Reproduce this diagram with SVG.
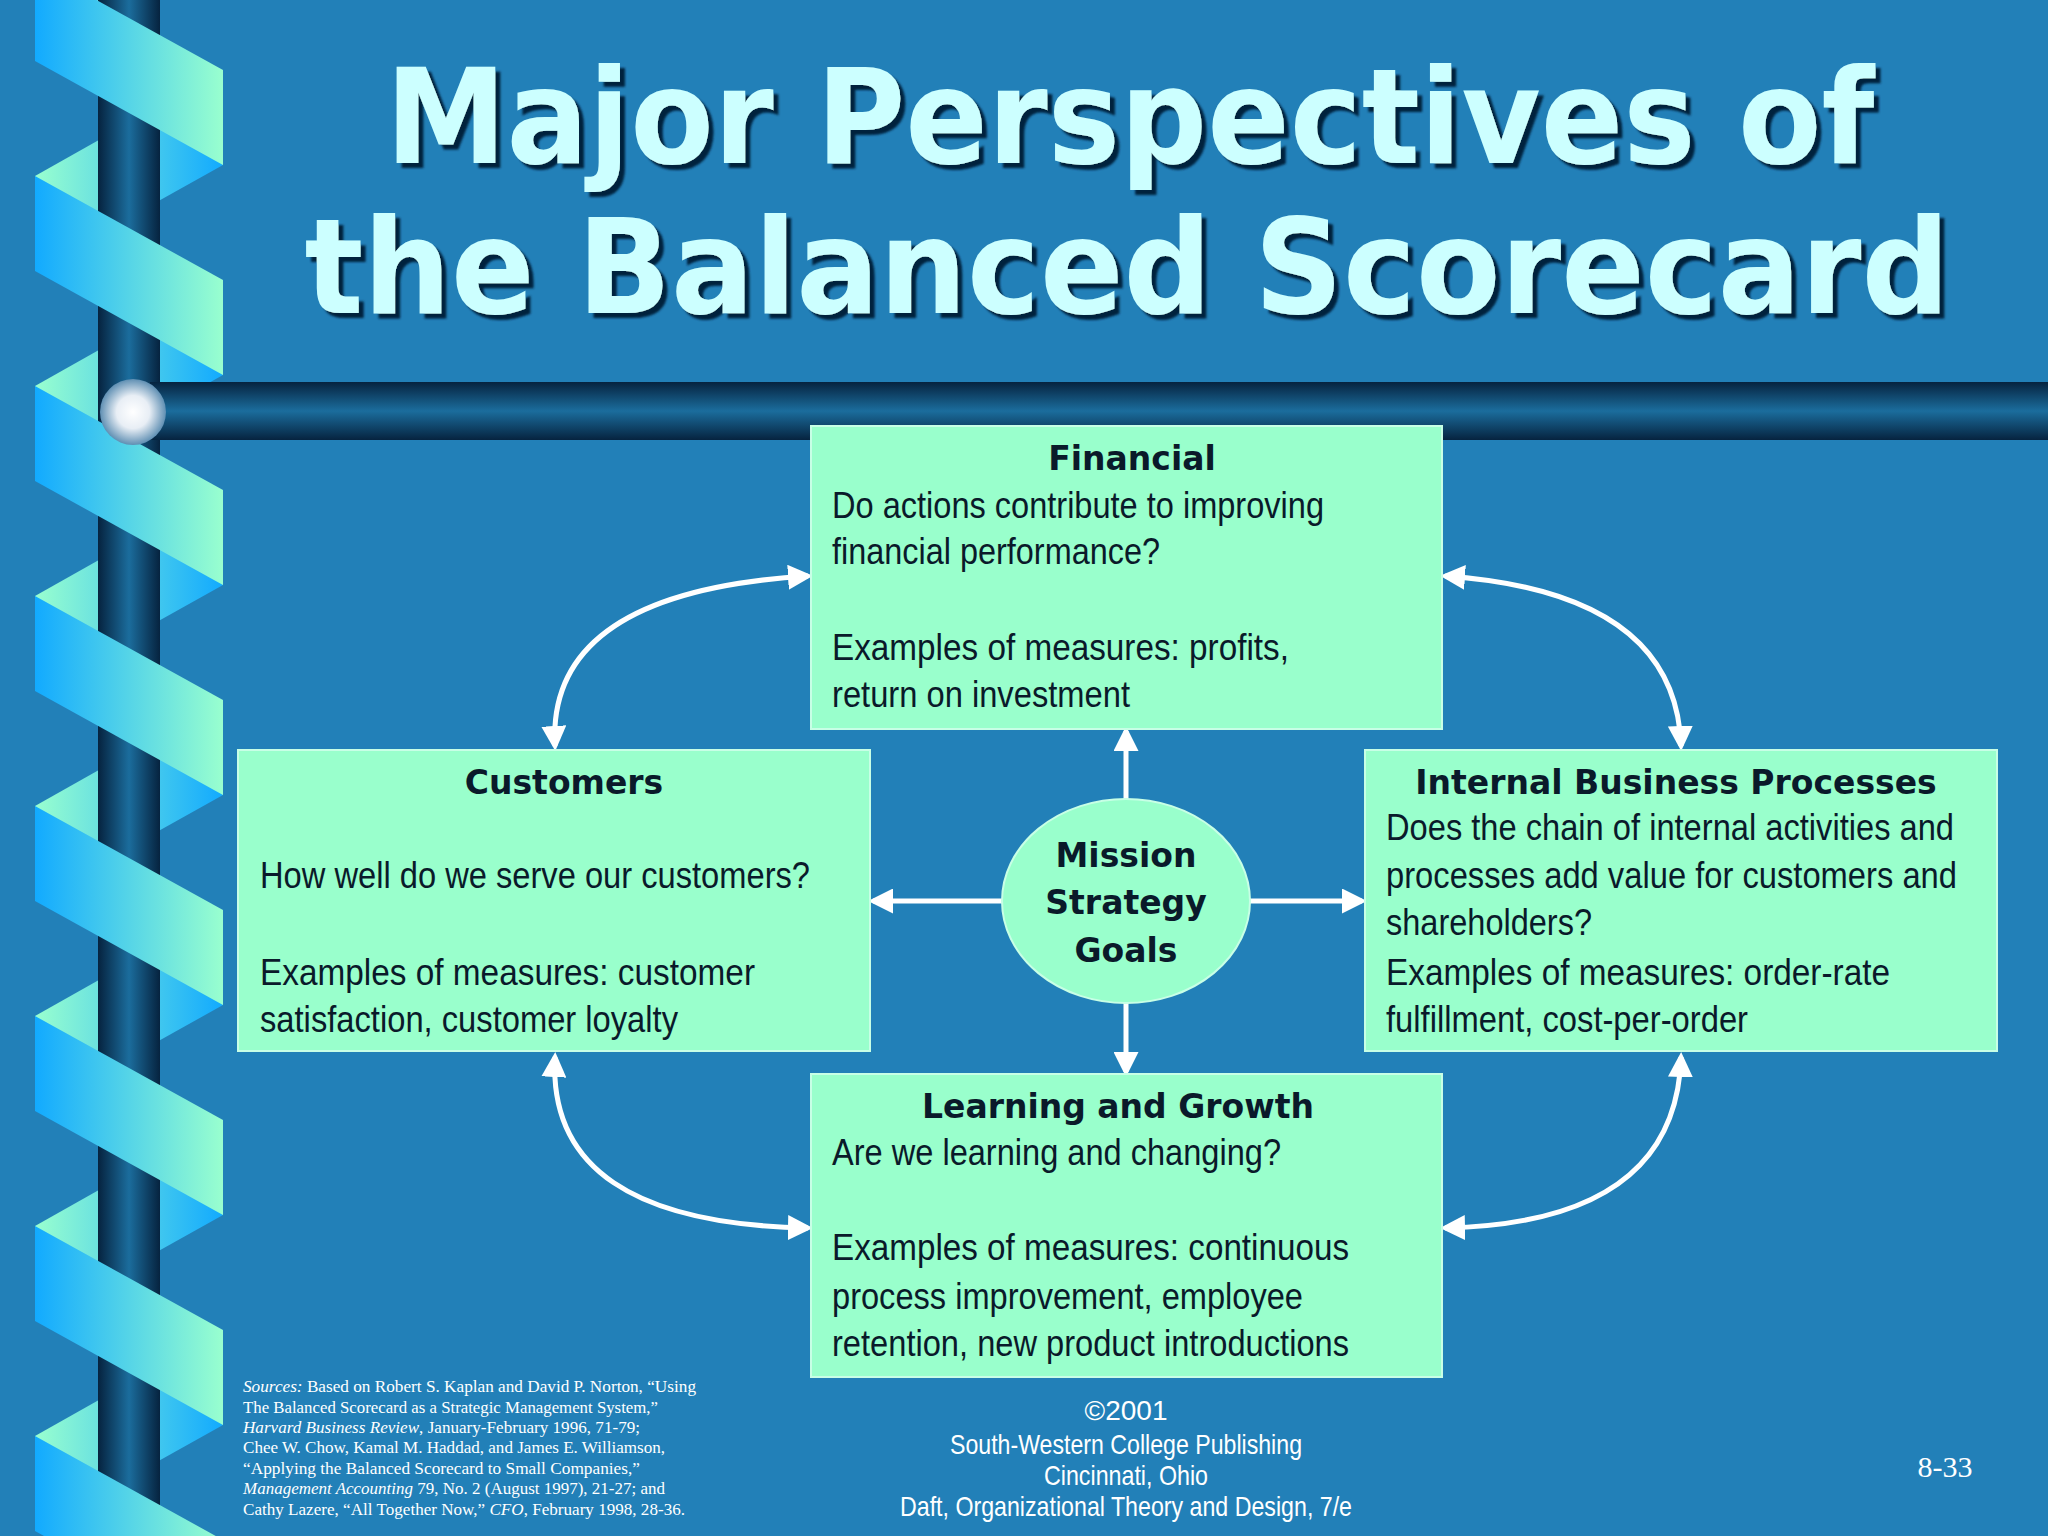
<svg xmlns="http://www.w3.org/2000/svg" width="2048" height="1536" viewBox="0 0 2048 1536">
<defs>
<linearGradient id="front" x1="0" x2="1" y1="0" y2="0"><stop offset="0" stop-color="#12aaff"/><stop offset="1" stop-color="#99ffcf"/></linearGradient>
<linearGradient id="back" x1="0" x2="1" y1="0" y2="0"><stop offset="0" stop-color="#99ffcf"/><stop offset="1" stop-color="#12aaff"/></linearGradient>
<linearGradient id="pole" x1="0" x2="1"><stop offset="0" stop-color="#06233f"/><stop offset="0.5" stop-color="#1b6d9d"/><stop offset="1" stop-color="#06233f"/></linearGradient>
<linearGradient id="bar" x1="0" x2="0" y1="0" y2="1"><stop offset="0" stop-color="#06233f"/><stop offset="0.5" stop-color="#1b6d9d"/><stop offset="1" stop-color="#06233f"/></linearGradient>
<radialGradient id="ball"><stop offset="0" stop-color="#ffffff"/><stop offset="0.5" stop-color="#e8eef5"/><stop offset="1" stop-color="#5f8fb3"/></radialGradient>
<filter id="shadow" x="-5%" y="-20%" width="110%" height="140%"><feDropShadow dx="5" dy="5" stdDeviation="1" flood-color="#05233c" flood-opacity="1"/></filter>
<marker id="ah" viewBox="0 0 10 10" refX="8" refY="5" markerWidth="5" markerHeight="5" orient="auto-start-reverse"><path d="M0,0 L10,5 L0,10 z" fill="#ffffff"/></marker>
<g id="seg">
<polygon points="223,70 223,165 35,270 35,176" fill="url(#back)"/>
</g>
</defs>
<style>
.box{fill:#99ffcc;stroke:#c8ffe6;stroke-width:2}
.tt{font-family:"DejaVu Sans",sans-serif;font-weight:bold;font-size:33px;fill:#0a1a2a;text-anchor:middle}
.bd{font-family:"Liberation Sans",Arial,sans-serif;font-size:37px;fill:#0a1a2a}
.ar{fill:none;stroke:#ffffff;stroke-width:5;marker-end:url(#ah)}
.ar2{fill:none;stroke:#ffffff;stroke-width:5;marker-end:url(#ah);marker-start:url(#ah)}
.src{font-family:"Liberation Serif",serif;font-size:17px;fill:#ffffff}
.ft{font-family:"Liberation Sans",Arial,sans-serif;font-size:28px;fill:#ffffff;text-anchor:middle}
</style>
<rect width="2048" height="1536" fill="#2280b8"/>
<g id="decor">
<use href="#seg" y="-210"/><use href="#seg"/><use href="#seg" y="210"/><use href="#seg" y="420"/><use href="#seg" y="630"/><use href="#seg" y="840"/><use href="#seg" y="1050"/><use href="#seg" y="1260"/>
<rect x="98" y="0" width="62" height="1536" fill="url(#pole)"/>
<rect x="150" y="382" width="1898" height="58" fill="url(#bar)"/>
<g fill="url(#front)">
<polygon points="35,-34 35,61 223,165 223,70"/>
<polygon points="35,176 35,271 223,375 223,280"/>
<polygon points="35,386 35,481 223,585 223,490"/>
<polygon points="35,596 35,691 223,795 223,700"/>
<polygon points="35,806 35,901 223,1005 223,910"/>
<polygon points="35,1016 35,1111 223,1215 223,1120"/>
<polygon points="35,1226 35,1321 223,1425 223,1330"/>
<polygon points="35,1436 35,1531 223,1635 223,1540"/>
</g>
<circle cx="133" cy="412" r="33" fill="url(#ball)"/>
</g>
<g id="title" font-family="'DejaVu Sans',sans-serif" font-weight="bold" font-size="132" text-anchor="middle" fill="#ccffff" filter="url(#shadow)">
<text x="1130" y="163" textLength="1489" lengthAdjust="spacingAndGlyphs">Major Perspectives of</text>
<text x="1127" y="313" textLength="1645" lengthAdjust="spacingAndGlyphs">the Balanced Scorecard</text>
</g>
<g id="connectors">
<line class="ar" x1="1126" y1="799" x2="1126" y2="731"/>
<line class="ar" x1="1126" y1="1003" x2="1126" y2="1072"/>
<line class="ar" x1="1003" y1="901" x2="873" y2="901"/>
<line class="ar" x1="1250" y1="901" x2="1362" y2="901"/>
<path class="ar2" d="M808,576 Q546,592 555,746"/>
<path class="ar2" d="M1445,576 Q1676,592 1681,746"/>
<path class="ar2" d="M555,1057 Q546,1223 808,1228"/>
<path class="ar2" d="M1681,1057 Q1676,1223 1445,1228"/>
</g>
<g id="financial">
<rect class="box" x="811" y="426" width="631" height="303"/>
<text class="tt" x="1132" y="470">Financial</text>
<text class="bd" x="832" y="518" textLength="492" lengthAdjust="spacingAndGlyphs">Do actions contribute to improving</text>
<text class="bd" x="832" y="564" textLength="328" lengthAdjust="spacingAndGlyphs">financial performance?</text>
<text class="bd" x="832" y="660" textLength="457" lengthAdjust="spacingAndGlyphs">Examples of measures:  profits,</text>
<text class="bd" x="832" y="707" textLength="298" lengthAdjust="spacingAndGlyphs">return on investment</text>
</g>
<g id="customers">
<rect class="box" x="238" y="750" width="632" height="301"/>
<text class="tt" x="564" y="794">Customers</text>
<text class="bd" x="260" y="888" textLength="550" lengthAdjust="spacingAndGlyphs">How well do we serve our customers?</text>
<text class="bd" x="260" y="985" textLength="495" lengthAdjust="spacingAndGlyphs">Examples of measures:  customer</text>
<text class="bd" x="260" y="1032" textLength="418" lengthAdjust="spacingAndGlyphs">satisfaction, customer loyalty</text>
</g>
<g id="internal">
<rect class="box" x="1365" y="750" width="632" height="301"/>
<text class="tt" x="1676" y="794">Internal Business Processes</text>
<text class="bd" x="1386" y="840" textLength="568" lengthAdjust="spacingAndGlyphs">Does the chain of internal activities and</text>
<text class="bd" x="1386" y="888" textLength="571" lengthAdjust="spacingAndGlyphs">processes add value for customers and</text>
<text class="bd" x="1386" y="935" textLength="206" lengthAdjust="spacingAndGlyphs">shareholders?</text>
<text class="bd" x="1386" y="985" textLength="504" lengthAdjust="spacingAndGlyphs">Examples of measures:  order-rate</text>
<text class="bd" x="1386" y="1032" textLength="362" lengthAdjust="spacingAndGlyphs">fulfillment, cost-per-order</text>
</g>
<g id="learning">
<rect class="box" x="811" y="1074" width="631" height="303"/>
<text class="tt" x="1118" y="1118">Learning and Growth</text>
<text class="bd" x="832" y="1165" textLength="449" lengthAdjust="spacingAndGlyphs">Are we learning and changing?</text>
<text class="bd" x="832" y="1260" textLength="517" lengthAdjust="spacingAndGlyphs">Examples of measures:  continuous</text>
<text class="bd" x="832" y="1309" textLength="471" lengthAdjust="spacingAndGlyphs">process improvement, employee</text>
<text class="bd" x="832" y="1356" textLength="517" lengthAdjust="spacingAndGlyphs">retention, new product introductions</text>
</g>
<g id="mission">
<ellipse cx="1126" cy="901" rx="124" ry="102" fill="#99ffcc" stroke="#c8ffe6" stroke-width="2"/>
<text class="tt" x="1126" y="867" font-size="40">Mission</text>
<text class="tt" x="1126" y="914" font-size="40">Strategy</text>
<text class="tt" x="1126" y="962" font-size="40">Goals</text>
</g>
<g id="sources">
<text class="src" x="243" y="1392" textLength="453" lengthAdjust="spacingAndGlyphs"><tspan font-style="italic">Sources:</tspan>  Based on Robert S. Kaplan and David P. Norton, “Using</text>
<text class="src" x="243" y="1413" textLength="415" lengthAdjust="spacingAndGlyphs">The Balanced Scorecard as a Strategic Management System,”</text>
<text class="src" x="243" y="1433" textLength="397" lengthAdjust="spacingAndGlyphs"><tspan font-style="italic">Harvard Business Review</tspan>, January-February 1996, 71-79;</text>
<text class="src" x="243" y="1453" textLength="422" lengthAdjust="spacingAndGlyphs">Chee W. Chow, Kamal M. Haddad, and James E. Williamson,</text>
<text class="src" x="243" y="1474" textLength="397" lengthAdjust="spacingAndGlyphs">“Applying the Balanced Scorecard to Small Companies,”</text>
<text class="src" x="243" y="1494" textLength="422" lengthAdjust="spacingAndGlyphs"><tspan font-style="italic">Management Accounting</tspan> 79, No. 2 (August 1997), 21-27; and</text>
<text class="src" x="243" y="1515" textLength="442" lengthAdjust="spacingAndGlyphs">Cathy Lazere, “All Together Now,” <tspan font-style="italic">CFO</tspan>, February 1998, 28-36.</text>
</g>
<g id="footer">
<text class="ft" x="1126" y="1420">©2001</text>
<text class="ft" x="1126" y="1454" textLength="352" lengthAdjust="spacingAndGlyphs">South-Western College Publishing</text>
<text class="ft" x="1126" y="1485" textLength="164" lengthAdjust="spacingAndGlyphs">Cincinnati, Ohio</text>
<text class="ft" x="1126" y="1516" textLength="452" lengthAdjust="spacingAndGlyphs">Daft, Organizational Theory and Design, 7/e</text>
<text x="1945" y="1477" font-family="'Liberation Serif',serif" font-size="30" fill="#ffffff" text-anchor="middle">8-33</text>
</g>
</svg>
